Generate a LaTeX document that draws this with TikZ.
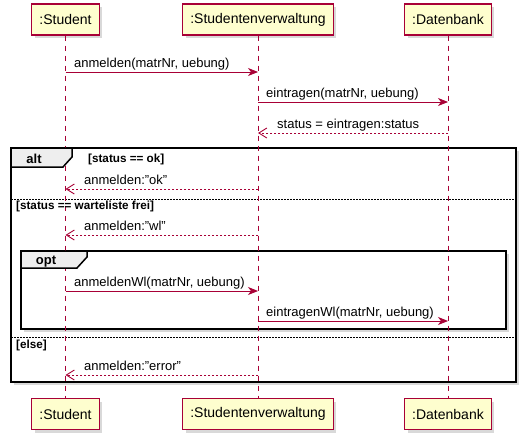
\documentclass[tikz,border=0pt]{standalone}
\usepackage{fontspec}
\setmainfont{Liberation Sans}
\usepackage{tikz}
\usetikzlibrary{arrows.meta,shadows}
\definecolor{umlred}{RGB}{168,0,54}
\definecolor{umlyellow}{RGB}{254,254,206}
\definecolor{umlgray}{RGB}{238,238,238}

\begin{document}
\begin{tikzpicture}[x=1pt, y=-1pt,
  participant/.style={rectangle, draw=umlred, line width=1.1pt, fill=umlyellow,
    minimum height=31pt, inner xsep=7.6pt, font=\fontsize{14}{16}\selectfont,
    drop shadow={shadow xshift=3pt, shadow yshift=-3pt, opacity=0.3}},
  lifeline/.style={umlred, line width=0.8pt, dash pattern=on 5pt off 5pt},
  call/.style={umlred, line width=0.9pt, -{Stealth[length=10pt, width=8pt, inset=3pt]}},
  reply/.style={umlred, line width=0.9pt, dash pattern=on 2pt off 2pt,
    -{Straight Barb[length=8pt, width=10pt]}},
  msg/.style={font=\fontsize{13}{15}\selectfont, anchor=base west, inner sep=0pt},
  guard/.style={font=\bfseries\fontsize{11.7}{13}\selectfont, anchor=base west, inner sep=0pt},
  frame/.style={draw=black, fill=white, line width=1.5pt,
    drop shadow={shadow xshift=3pt, shadow yshift=-3pt, opacity=0.3}},
  tab/.style={draw=black, fill=umlgray, line width=1.5pt},
  sep/.style={black, line width=0.7pt, dash pattern=on 1.5pt off 1.5pt},
  tabtext/.style={font=\bfseries\fontsize{13}{15}\selectfont, anchor=base, inner sep=0pt}]
  \useasboundingbox (0,0) rectangle (522,439);

  % Frames
  \draw[frame] (11,148) rectangle (516,382);
  \draw[frame] (21,251) rectangle (506,329);
  \draw[sep] (11,199) -- (516,199);
  \draw[sep] (11,337) -- (516,337);

  % Nodes
  \node[participant] (stuT) at (65.5,19.5) {:Student};
  \node[participant] (verT) at (258,19.5) {:Studentenverwaltung};
  \node[participant] (datT) at (448,19.5) {:Datenbank};
  \node[participant] (stuB) at (65.5,414) {:Student};
  \node[participant] (verB) at (258,414) {:Studentenverwaltung};
  \node[participant] (datB) at (448,414) {:Datenbank};

  % Lifelines
  \draw[lifeline] (stuT.south) -- (stuB.north);
  \draw[lifeline] (verT.south) -- (verB.north);
  \draw[lifeline] (datT.south) -- (datB.north);

  % Fragment tabs
  \draw[tab] (11,148) -- (72,148) -- (72,157) -- (63,167) -- (11,167) -- cycle;
  \node[tabtext] (alt) at (34,163) {alt};
  \draw[tab] (21,251) -- (87,251) -- (87,257) -- (77,268) -- (21,268) -- cycle;
  \node[tabtext] (opt) at (46,264) {opt};
  \node[guard] (g1) at (88,162) {[status == ok]};
  \node[guard] (g2) at (16,209) {[status == warteliste frei]};
  \node[guard] (g3) at (16,348.5) {[else]};

  % Edges
  \draw[call] (stuT |- 0,72) -- (verT |- 0,72);
  \node[msg] (m1) at (74,67.5) {anmelden(matrNr, uebung)};
  \draw[call] (verT |- 0,102) -- (datT |- 0,102);
  \node[msg] (m2) at (266,97.5) {eintragen(matrNr, uebung)};
  \draw[reply] (datT |- 0,133) -- (verT |- 0,133);
  \node[msg] (r1) at (277,128.5) {status = eintragen:status};
  \draw[reply] (verT |- 0,189) -- (stuT |- 0,189);
  \node[msg] (r2) at (84,184.5) {anmelden:\symbol{34}ok\symbol{34}};
  \draw[reply] (verT |- 0,235) -- (stuT |- 0,235);
  \node[msg] (r3) at (84,230.5) {anmelden:\symbol{34}wl\symbol{34}};
  \draw[call] (stuT |- 0,291) -- (verT |- 0,291);
  \node[msg] (m3) at (74,286.5) {anmeldenWl(matrNr, uebung)};
  \draw[call] (verT |- 0,321) -- (datT |- 0,321);
  \node[msg] (m4) at (266,316.5) {eintragenWl(matrNr, uebung)};
  \draw[reply] (verT |- 0,375) -- (stuT |- 0,375);
  \node[msg] (r4) at (84,370.5) {anmelden:\symbol{34}error\symbol{34}};
\end{tikzpicture}
\end{document}
